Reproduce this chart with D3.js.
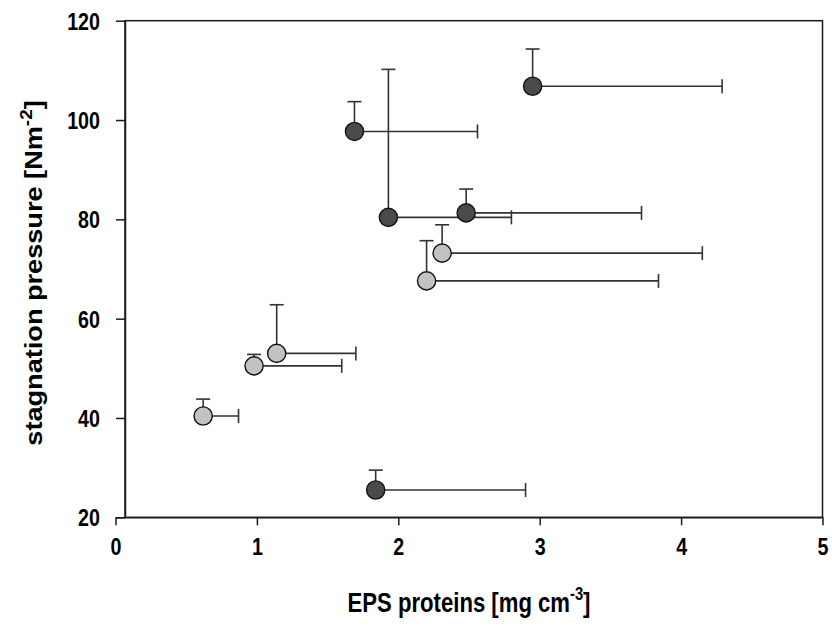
<!DOCTYPE html>
<html>
<head>
<meta charset="utf-8">
<script src="https://cdn.jsdelivr.net/npm/d3@7"></script>
<style>
  html, body { margin: 0; padding: 0; background: #fff; }
  svg text { font-family: "Liberation Sans", Arial, sans-serif; font-weight: bold; fill: #000; }
</style>
</head>
<body>
<svg id="chart" width="832" height="626"></svg>
<script>
// EPS protein content vs. stagnation pressure, with one-sided (+) error bars
const darkX    = [2.95, 1.69, 1.93, 2.48, 1.84];
const darkY    = [106.8, 97.7, 80.4, 81.3, 25.5];
const darkXErr = [1.34, 0.87, 0.87, 1.24, 1.06];
const darkYErr = [7.5, 6.0, 29.8, 4.8, 4.0];

const lightX    = [2.31, 2.20, 1.14, 0.98, 0.62];
const lightY    = [73.2, 67.6, 53.0, 50.5, 40.4];
const lightXErr = [1.84, 1.64, 0.56, 0.62, 0.25];
const lightYErr = [5.7, 8.1, 9.8, 2.3, 3.4];

const xTicks = [0, 1, 2, 3, 4, 5];
const yTicks = [20, 40, 60, 80, 100, 120];

// lettering is a condensed bold face: narrow it horizontally
const narrow = 0.82;

const svg = d3.select("#chart");

const x = d3.scaleLinear().domain([0, 5]).range([115.5, 822.5]);
const y = d3.scaleLinear().domain([20, 120]).range([517.3, 20.7]);
const frameLeft = 125;

// plot frame
svg.append("rect")
  .attr("x", frameLeft).attr("y", y(120))
  .attr("width", x(5) - frameLeft).attr("height", y(20) - y(120))
  .attr("fill", "none").attr("stroke", "#1a1a1a").attr("stroke-width", 1.5);

// axes
const xAxis = svg.append("g")
  .attr("transform", `translate(0,${y(20)})`)
  .call(d3.axisBottom(x).tickValues(xTicks).tickFormat(d3.format("d"))
        .tickSize(8).tickSizeOuter(0).tickPadding(13));
const yAxis = svg.append("g")
  .attr("transform", `translate(${frameLeft},0)`)
  .call(d3.axisLeft(y).tickValues(yTicks).tickFormat(d3.format("d"))
        .tickSize(9).tickSizeOuter(0).tickPadding(16));

[xAxis, yAxis].forEach(g => {
  g.selectAll("path.domain").attr("stroke", "#1a1a1a").attr("stroke-width", 1.5);
  g.selectAll(".tick line").attr("stroke", "#1a1a1a").attr("stroke-width", 1.5);
  g.selectAll(".tick text")
    .style("font-size", "24px")
    .style("font-family", "'Liberation Sans', Arial, sans-serif")
    .style("font-weight", "bold");
});
xAxis.selectAll(".tick text").attr("transform", `scale(${narrow},1)`);
yAxis.selectAll(".tick text")
  .attr("x", 0).attr("dy", "0.36em")
  .attr("transform", `translate(-25,0) scale(${narrow},1)`);

// axis titles
const xt = svg.append("text")
  .attr("transform", `translate(${(x(0) + x(5)) / 2},612) scale(${narrow},1)`)
  .attr("text-anchor", "middle").style("font-size", "27px");
xt.append("tspan").text("EPS proteins [mg cm");
xt.append("tspan").attr("dy", -12).style("font-size", "18px").text("-3");
xt.append("tspan").attr("dy", 12).text("]");

const yt = svg.append("text")
  .attr("transform", `translate(42,273) rotate(-90) scale(1.18,1)`)
  .attr("text-anchor", "middle").style("font-size", "23px");
yt.append("tspan").text("stagnation pressure [Nm");
yt.append("tspan").attr("dy", -10).style("font-size", "16px").text("-2");
yt.append("tspan").attr("dy", 10).text("]");

// build point records from the series arrays
const pts = [];
darkX.forEach((d, i) => pts.push({ x: d, y: darkY[i], ex: darkXErr[i], ey: darkYErr[i], fill: "#4a4a4a" }));
lightX.forEach((d, i) => pts.push({ x: d, y: lightY[i], ex: lightXErr[i], ey: lightYErr[i], fill: "#c2c2c2" }));

const cap = 7;
const bars = svg.append("g").attr("stroke", "#333").attr("stroke-width", 1.6).attr("fill", "none");
pts.forEach(p => {
  const cx = x(p.x), cy = y(p.y), xe = x(p.x + p.ex), ye = y(p.y + p.ey);
  bars.append("line").attr("x1", cx).attr("x2", xe).attr("y1", cy).attr("y2", cy);
  bars.append("line").attr("x1", xe).attr("x2", xe).attr("y1", cy - cap).attr("y2", cy + cap);
  bars.append("line").attr("x1", cx).attr("x2", cx).attr("y1", cy).attr("y2", ye);
  bars.append("line").attr("x1", cx - cap).attr("x2", cx + cap).attr("y1", ye).attr("y2", ye);
});

svg.append("g").selectAll("circle").data(pts).join("circle")
  .attr("cx", d => x(d.x)).attr("cy", d => y(d.y)).attr("r", 9.1)
  .attr("fill", d => d.fill).attr("stroke", "#111").attr("stroke-width", 1.4);
</script>
</body>
</html>
